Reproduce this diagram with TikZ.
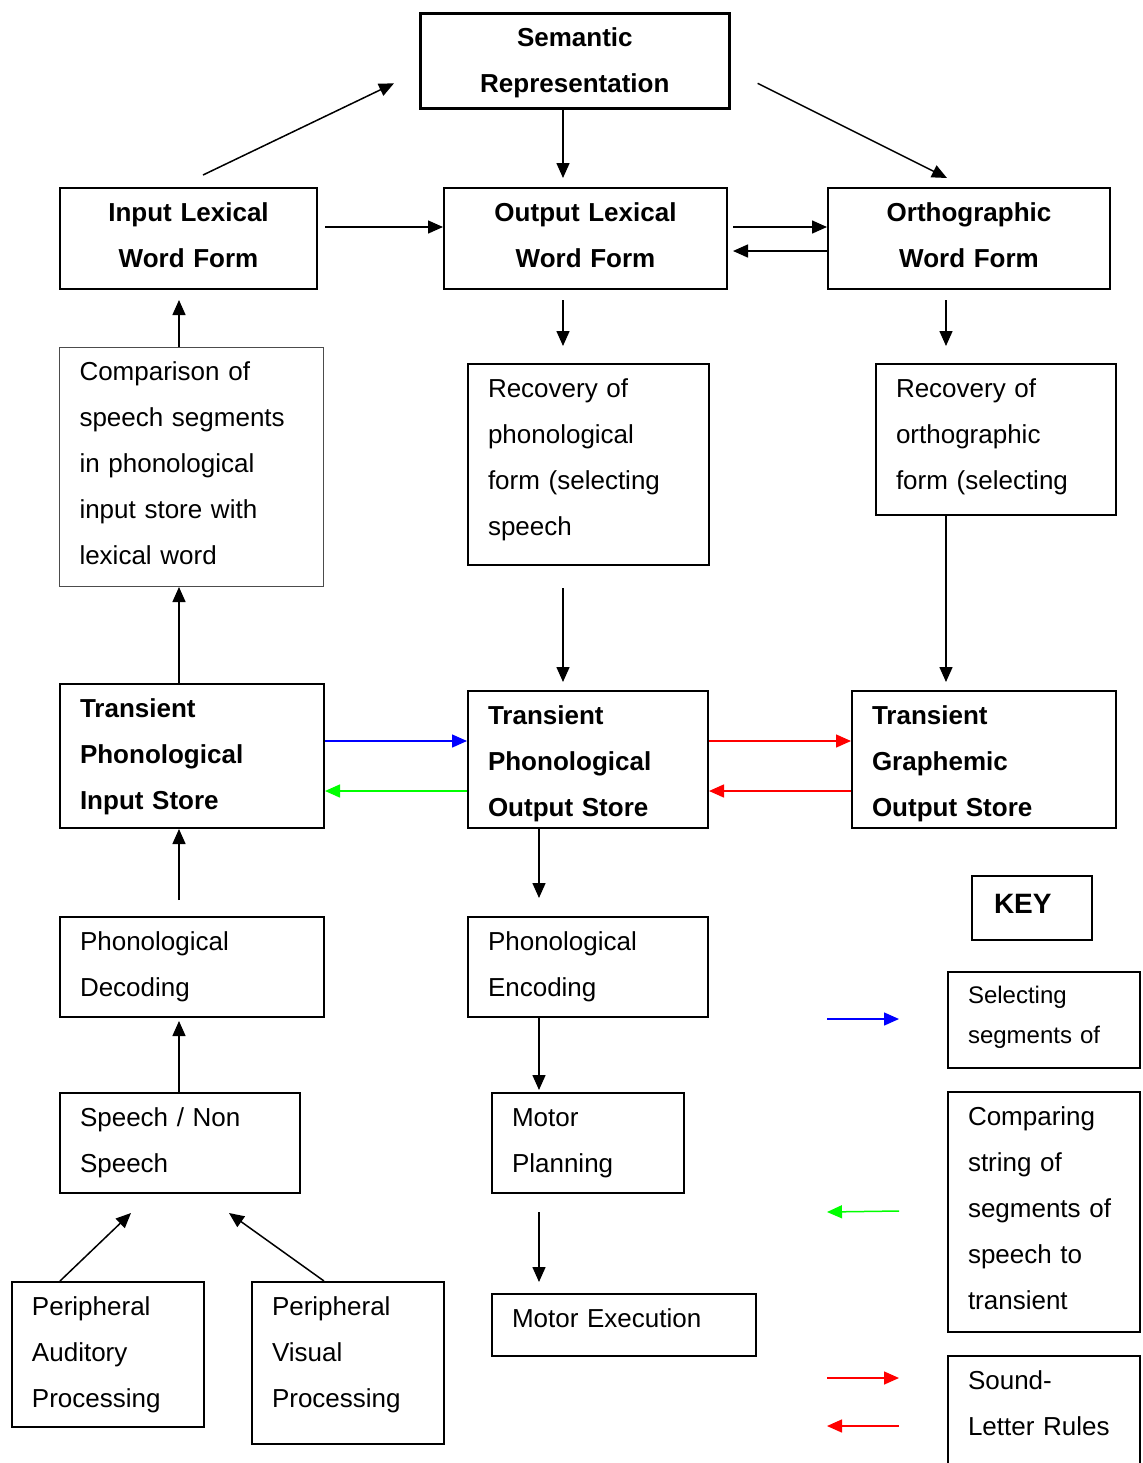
\documentclass[tikz,border=0pt]{standalone}
\usepackage{fontspec}
\setmainfont{Liberation Sans}
\usetikzlibrary{arrows.meta,calc}
\tikzset{
  box/.style={draw, line width=1pt, anchor=north west, inner xsep=10pt, inner ysep=0pt,
    text height=16.5pt, align=left, font=\fontsize{13}{23}\selectfont},
  boldbox/.style={box, font=\fontsize{13}{23}\selectfont\bfseries},
  topbox/.style={boldbox, align=center},
  keybox/.style={box, text height=15.5pt, font=\fontsize{12}{20}\selectfont}
}
\begin{document}
\begin{tikzpicture}[x=0.5pt, y=-0.5pt, >={Triangle[length=7.5pt,width=6.5pt]}, line width=0.75pt]
\useasboundingbox (0,0) rectangle (1143,1463);
% columns for the vertical arrows
\coordinate (cA) at (179,0);
\coordinate (cB) at (563,0);
\coordinate (cC) at (946,0);
\coordinate (cD) at (539,0);

% top row
\node[topbox, line width=1.3pt, text width=134.5pt, text depth=31pt] (sem) at (419,12) {Semantic\\Representation};
\node[topbox, text width=108.5pt, text depth=34pt] (ilwf) at (59,187) {Input Lexical\\Word Form};
\node[topbox, text width=121.5pt, text depth=34pt] (olwf) at (443,187) {Output Lexical\\Word Form};
\node[topbox, text width=121pt, text depth=34pt] (owf) at (827,187) {Orthographic\\Word Form};

% recovery / comparison
\node[box, draw=black!70, line width=0.5pt, text width=112pt, text depth=103pt] (cmp) at (59,347)
  {Comparison of\\speech segments\\in phonological\\input store with\\lexical word};
\node[box, text width=100.5pt, text depth=84pt] (rph) at (467,363) {Recovery of\\phonological\\form (selecting\\speech};
\node[box, text width=100pt, text depth=59pt] (ror) at (875,363) {Recovery of\\orthographic\\form (selecting};

% transient stores
\node[boldbox, text width=112pt, text depth=55.5pt] (tpi) at (59,683) {Transient\\Phonological\\Input Store};
\node[boldbox, text width=100pt, text depth=52pt] (tpo) at (467,690) {Transient\\Phonological\\Output Store};
\node[boldbox, text width=112pt, text depth=52pt] (tgo) at (851,690) {Transient\\Graphemic\\Output Store};

% lower part
\node[box, text width=112pt, text depth=33.5pt] (pdec) at (59,916) {Phonological\\Decoding};
\node[box, text width=100pt, text depth=33.5pt] (penc) at (467,916) {Phonological\\Encoding};
\node[box, text width=100pt, text depth=33.5pt] (sns) at (59,1092) {Speech / Non\\Speech};
\node[box, text width=76pt, text depth=33.5pt] (mpl) at (491,1092) {Motor\\Planning};
\node[box, text width=76pt, text depth=56pt] (paud) at (11,1281) {Peripheral\\Auditory\\Processing};
\node[box, text width=76pt, text depth=64.5pt] (pvis) at (251,1281) {Peripheral\\Visual\\Processing};
\node[box, text width=112pt, text depth=14.5pt] (mex) at (491,1293) {Motor Execution};

% key
\node[box, inner xsep=11pt, text height=18.5pt, text width=38pt, text depth=13.5pt,
  font=\fontsize{14}{20}\selectfont\bfseries] (key) at (971,875) {KEY};
\node[keybox, text width=76pt, text depth=32.5pt] (ksel) at (947,971) {Selecting\\segments of};
\node[box, text width=76pt, text depth=103.5pt] (kcmp) at (947,1091)
  {Comparing\\string of\\segments of\\speech to\\transient};
\node[box, text width=76pt, text depth=58.5pt] (ksl) at (947,1355) {Sound-\\Letter Rules};

% arrows
\draw[->] ($(ilwf.north)+(14.5,-12)$) -- ($(sem.west)+(-25,22.5)$);
\draw[->] (sem.south -| cB) -- ($(olwf.north -| cB)+(0,-9)$);
\draw[->] ($(sem.east)+(27,22.5)$) -- ($(owf.north)+(-22,-9)$);
\draw[->] ($(ilwf.east)+(7,-11.5)$) -- ($(olwf.west)+(0,-11.5)$);
\draw[->] ($(olwf.east)+(5,-11.5)$) -- ($(owf.west)+(0,-11.5)$);
\draw[->] ($(owf.west)+(0,12.5)$) -- ($(olwf.east)+(5,12.5)$);
\draw[->] ($(olwf.south -| cB)+(0,10)$) -- ($(rph.north -| cB)+(0,-17)$);
\draw[->] ($(owf.south -| cC)+(0,10)$) -- ($(ror.north -| cC)+(0,-17)$);
\draw[->] (cmp.north -| cA) -- ($(ilwf.south -| cA)+(0,10)$);
\draw[->] ($(rph.south -| cB)+(0,22)$) -- ($(tpo.north -| cB)+(0,-8)$);
\draw[->] (ror.south -| cC) -- ($(tgo.north -| cC)+(0,-8)$);
\draw[->] (tpi.north -| cA) -- (cmp.south -| cA);
\draw[->, blue] ($(tpi.east)+(0,-15)$) -- ($(tpo.west)+(0,-18.5)$);
\draw[->, green] ($(tpo.west)+(0,31.5)$) -- ($(tpi.east)+(0,35)$);
\draw[->, red] ($(tpo.east)+(0,-18.5)$) -- ($(tgo.west)+(0,-18.5)$);
\draw[->, red] ($(tgo.west)+(0,31.5)$) -- ($(tpo.east)+(0,31.5)$);
\draw[->] (tpo.south -| cD) -- ($(penc.north -| cD)+(0,-18)$);
\draw[->] ($(pdec.north -| cA)+(0,-16)$) -- (tpi.south -| cA);
\draw[->] (sns.north -| cA) -- ($(pdec.south -| cA)+(0,3)$);
\draw[->] (penc.south -| cD) -- ($(mpl.north -| cD)+(0,-2)$);
\draw[->] ($(mpl.south -| cD)+(0,18)$) -- ($(mex.north -| cD)+(0,-11)$);
\draw[->] ($(paud.north)+(-48,0)$) -- ($(sns.south)+(-49,19)$);
\draw[->] ($(pvis.north)+(-24,0)$) -- ($(sns.south)+(49,19)$);

% key arrows
\draw[->, blue] ($(ksel.west)+(-120,-1)$) -- ($(ksel.west)+(-48,-1)$);
\draw[->, green] ($(kcmp.west)+(-48,-1)$) -- ($(kcmp.west)+(-120,0)$);
\draw[->, red] ($(ksl.north west)+(-120,23)$) -- ($(ksl.north west)+(-48,23)$);
\draw[->, red] ($(ksl.north west)+(-48,71)$) -- ($(ksl.north west)+(-120,71)$);
\end{tikzpicture}
\end{document}
